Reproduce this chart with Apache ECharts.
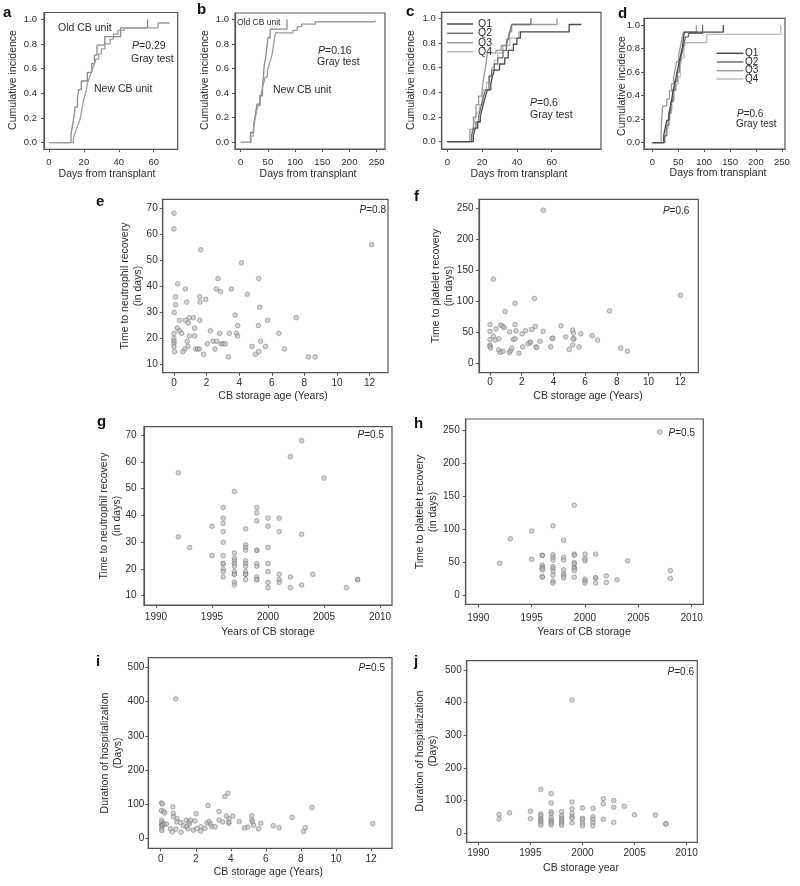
<!DOCTYPE html>
<html><head><meta charset="utf-8">
<script src="https://cdn.jsdelivr.net/npm/echarts@6/dist/echarts.min.js"></script>
<style>html,body{margin:0;padding:0;background:#fff}#c{width:800px;height:886px}</style>
</head><body><div id="c"></div>
<script>
// ---------- tick labels ----------
const incidenceTicks = [0, 0.2, 0.4, 0.6, 0.8, 1.0];
const daysTicksShort = [0, 20, 40, 60];
const daysTicksLong = [0, 50, 100, 150, 200, 250];
const ageTicks = [0, 2, 4, 6, 8, 10, 12];
const neutroTicks = [10, 20, 30, 40, 50, 60, 70];
const plateletTicks = [0, 50, 100, 150, 200, 250];
const yearTicks = [1990, 1995, 2000, 2005, 2010];
const hospTicks = [0, 100, 200, 300, 400, 500];

// ---------- panel a: cumulative incidence, old vs new CB unit (days 0-70) ----------
const aOldUnit = [[0,0],[12.6,0.07],[13.5,0.14],[14.3,0.21],[15,0.29],[16.3,0.36],[17,0.43],[18.5,0.5],[22,0.57],[24.5,0.64],[26,0.71],[27.5,0.79],[32,0.86],[41,0.93],[56.5,1.0]];
const aNewUnit = [[0,0],[14,0.04],[15,0.08],[16,0.12],[17,0.16],[18,0.2],[19,0.28],[20,0.36],[21,0.4],[22,0.48],[23,0.52],[24,0.56],[25,0.6],[26,0.64],[27,0.68],[28.5,0.72],[30,0.76],[32,0.8],[35,0.84],[37,0.88],[39.5,0.91],[43,0.93],[62.5,0.97],[69,0.97]];
// ---------- panel b ----------
const bOldUnit = [[0,0],[18,0.08],[24,0.15],[27,0.23],[30,0.31],[35,0.38],[40,0.46],[42,0.54],[43,0.62],[46,0.69],[48,0.77],[50,0.85],[54,0.92],[85,1.0]];
const bNewUnit = [[0,0],[19,0.05],[23,0.1],[26,0.18],[29,0.25],[32,0.3],[36,0.36],[39,0.42],[42,0.48],[45,0.53],[49,0.58],[52,0.63],[55,0.67],[58,0.72],[60,0.78],[62,0.84],[64,0.89],[96,0.91],[104,0.94],[112,0.96],[137,0.98],[247,0.98],[247,0.995]];
// ---------- panel c: quartiles ----------
const cQ1 = [[0,0],[15,0.05],[16,0.11],[17.5,0.16],[19,0.21],[20,0.26],[21,0.32],[22,0.37],[23,0.42],[25,0.47],[26,0.53],[27,0.58],[30,0.63],[33,0.68],[35,0.74],[38,0.79],[40,0.84],[42,0.89],[70,0.95],[77,0.95]];
const cQ2 = [[0,0],[14,0.05],[15,0.11],[16.5,0.16],[18,0.21],[19,0.26],[20,0.32],[21,0.37],[22,0.42],[24,0.53],[25.5,0.58],[27,0.63],[29,0.68],[32,0.74],[34,0.79],[35,0.84],[36,0.89],[37,0.95],[48,1.0]];
const cQ3 = [[0,0],[13,0.1],[15,0.2],[16.5,0.3],[18,0.37],[20,0.42],[21,0.53],[22,0.6],[23,0.72],[28,0.74],[31,0.78],[34,0.83],[35.5,0.89],[37,0.95],[63,1.0]];
const cQ4 = [[0,0],[14,0.06],[15,0.12],[16,0.18],[17,0.24],[18.5,0.3],[20,0.36],[21,0.42],[22.5,0.48],[24,0.54],[25.5,0.6],[27,0.66],[29,0.72],[32,0.78],[36,0.84],[41,0.89],[43,0.89]];
// ---------- panel d: quartiles ----------
const dQ1 = [[0,0],[22,0.06],[25,0.13],[28,0.19],[32,0.25],[35,0.31],[38,0.38],[40,0.44],[43,0.5],[46,0.56],[49,0.63],[52,0.69],[55,0.75],[58,0.81],[60,0.88],[62,0.94],[137,1.0]];
const dQ2 = [[0,0],[24,0.06],[28,0.15],[32,0.25],[36,0.35],[40,0.45],[44,0.52],[48,0.6],[52,0.66],[55,0.72],[58,0.78],[61,0.84],[64,0.9],[70,0.93],[97,1.0]];
const dQ3 = [[0,0],[17,0.06],[18,0.19],[20,0.31],[28,0.37],[33,0.44],[37,0.5],[41,0.56],[44,0.62],[47,0.69],[51,0.75],[54,0.81],[57,0.88],[60,0.94],[85,1.0]];
const dQ4 = [[0,0],[22,0.05],[26,0.12],[30,0.2],[34,0.28],[38,0.36],[42,0.44],[46,0.5],[50,0.56],[54,0.64],[57,0.72],[61,0.8],[64,0.85],[105,0.92],[248,1.0]];

// ---------- panel e: storage age (yr) vs neutrophil recovery (days) ----------
const ageNeutrophil = [[0,68],[0,62],[1.64,54],[4.14,49],[12.13,56],[0.23,41],[2.7,43],[5.2,43],[0.1,36],[0.1,33],[0.02,30],[0.7,39],[0.78,34],[1.58,36],[1.6,34],[1.95,35],[2.6,39],[2.85,38],[3.52,39],[4.5,37],[5.26,32],[3.75,29],[5.74,27],[7.5,28],[0.33,27],[0.7,27],[0.94,28],[1.19,28],[0.88,26],[1.58,27],[3.91,25],[5.18,25],[0.2,24],[0.33,23],[0.47,22],[0,22],[2.23,23],[1.27,24],[1.27,21],[0.94,21],[2.8,22],[3.4,22],[3.83,22],[3.91,21],[6.43,22],[0,20],[0,19],[0,18],[0,17],[0.04,15],[0.82,19],[0.86,17],[0.66,16],[0.55,15],[1.33,16],[1.45,16],[1.56,16],[1.82,14],[2.05,18],[2.4,19],[2.62,19],[2.52,16],[2.9,18],[3.0,18],[3.15,18],[3.34,13],[4.79,17],[5.32,19],[5.61,17],[5.0,14],[5.2,15],[6.78,16],[8.25,13],[8.66,13]];
// ---------- panel f: storage age vs platelet recovery ----------
const agePlatelet = [[3.37,247],[0.21,136],[12.02,110],[2.8,105],[1.58,97],[0.95,84],[7.54,85],[0,63],[0.67,62],[0.8,60],[0.9,58],[1.58,63],[2.86,60],[4.48,61],[0,52],[0.38,56],[0.21,44],[0.34,38],[0.55,40],[0,39],[1.24,51],[1.64,53],[2.25,53],[2.63,55],[3.35,52],[2.02,48],[2.53,34],[1.47,39],[1.58,40],[3.92,41],[3.96,41],[4.78,43],[5.22,54],[5.26,49],[5.3,40],[5.24,40],[5.73,48],[6.44,45],[6.78,38],[0,30],[0,28],[0.04,25],[0.55,22],[0.65,18],[0.82,20],[1.22,18],[1.3,21],[1.37,25],[1.83,17],[2.06,27],[2.4,32],[2.53,35],[2.9,27],[2.95,26],[3.16,36],[3.83,27],[5.0,23],[5.22,30],[5.62,27],[8.25,25],[8.67,20]];
// ---------- panel g: storage year vs neutrophil recovery ----------
const gYears = [1992, 1993, 1995, 1996, 1997, 1998, 1999, 2000, 2001, 2002, 2003, 2004, 2005, 2007, 2008];
const gNeutrophil = [[56,32],[28],[36,25],[43,39,37,34,30,25,22,22,20,19,17],[49,26,24,23,22,21,19,18,18,15,14],[35,29,28,27,23,22,21,19,18,18,16],[43,41,38,27,27,22,21,17,16,16],[39,36,28,22,19,15,13],[39,34,18,16,15],[62,17,13],[68,33,14],[18],[54],[13],[16,16]];
// ---------- panel h: storage year vs platelet recovery ----------
const hYears = [1992, 1993, 1995, 1996, 1997, 1998, 1999, 2000, 2001, 2002, 2003, 2004, 2007, 2008];
const hPlatelet = [[48],[85],[97,54],[60,60,45,42,40,38,28,27],[105,61,57,53,43,40,36,30,21,18],[83,57,53,38,32,29,26],[136,62,60,49,47,42,40,37,27],[62,55,52,24,21,18],[62,26,26,18],[29,19],[23],[52],[247],[37,25]];
// ---------- panel i: storage age vs hospitalization (days) ----------
const ageHospital = [[0.86,408],[3.83,133],[3.66,123],[8.63,91],[7.5,62],[12.1,44],[0.04,104],[0.1,101],[0.04,82],[0.15,80],[0.23,75],[0.69,93],[0.72,74],[0.72,64],[0.93,59],[0.91,49],[0.06,54],[0.06,47],[0.06,39],[0.13,43],[0.06,40],[0.1,38],[0.2,42],[0.06,29],[0.06,24],[0.32,43],[0.55,29],[0.67,20],[0.86,28],[1.14,47],[1.16,19],[1.3,38],[1.45,54],[1.47,35],[1.64,44],[1.6,49],[1.7,54],[1.56,29],[1.85,25],[1.96,52],[2.02,73],[2.06,30],[2.3,35],[2.29,22],[2.53,30],[2.63,46],[2.7,97],[2.76,50],[2.84,43],[2.91,35],[3.1,35],[3.33,79],[3.33,54],[3.54,49],[3.75,66],[3.89,58],[3.89,45],[3.89,49],[4.11,66],[4.48,50],[4.78,31],[4.97,34],[5.2,67],[5.2,54],[5.24,49],[5.3,39],[5.58,29],[5.71,45],[6.42,38],[6.76,32],[8.15,21],[8.25,32]];
// ---------- panel j: storage year vs hospitalization ----------
const jYears = [1992, 1993, 1995, 1996, 1997, 1998, 1999, 2000, 2001, 2002, 2003, 2004, 2005, 2007, 2008];
const jHospital = [[57,43],[62],[67,44],[134,59,53,45,40,35,30,24],[121,92,65,59,47,40,35,30,25],[65,53,45,40,35,30,24],[408,95,74,60,50,45,31],[77,45,40,30,22],[76,50,42,32,22],[105,90,42],[100,79,33],[82],[56],[55],[28,28]];

// ---------- build ----------
const FONT = '"Liberation Sans", Arial, Helvetica, sans-serif';
const TXT = '#2b2b2b';
const FRAME = '#555';
function byYear(years, groups){ const out=[]; years.forEach((yr,i)=>groups[i].forEach(v=>out.push([yr,v]))); return out; }

const grids=[], xAxes=[], yAxes=[], series=[], graphics=[];
const fmt1 = v => Number(v).toFixed(1);
const fmtInt = v => String(v);

function addPanel(p){
  const gi = grids.length;
  const fs = p.fs || 10;
  grids.push({left:p.box[0], top:p.box[1], width:p.box[2]-p.box[0], height:p.box[3]-p.box[1],
    show:true, borderColor:FRAME, borderWidth:1.2, backgroundColor:'transparent', containLabel:false, outerBoundsMode:'none'});
  xAxes.push({gridIndex:gi, type:'value', min:p.x[0], max:p.x[1],
    axisLine:{show:true, onZero:false, lineStyle:{color:FRAME, width:1.2}},
    axisTick:{show:true, length:3, customValues:p.xt, lineStyle:{color:FRAME}},
    axisLabel:{customValues:p.xt, fontSize:fs, color:TXT, margin:p.xm, fontFamily:FONT, formatter:fmtInt},
    splitLine:{show:false}});
  yAxes.push({gridIndex:gi, type:'value', min:p.y[0], max:p.y[1],
    axisLine:{show:true, onZero:false, lineStyle:{color:FRAME, width:1.2}},
    axisTick:{show:true, length:3, customValues:p.yt, lineStyle:{color:FRAME}},
    axisLabel:{customValues:p.yt, fontSize:fs, color:TXT, margin:p.ym, fontFamily:FONT, formatter:p.yf||fmtInt},
    splitLine:{show:false}});
  return gi;
}
function stepLine(gi, name, data, color){
  series.push({type:'line', name, xAxisIndex:gi, yAxisIndex:gi, data, step:'end', showSymbol:false, symbol:'none',
    lineStyle:{color, width:1.3}, itemStyle:{color}, animation:false, silent:true, clip:false});
}
function scatter(gi, data){
  series.push({type:'scatter', xAxisIndex:gi, yAxisIndex:gi, data, symbol:'circle', symbolSize:4.6,
    itemStyle:{color:'rgba(185,185,185,0.75)', borderColor:'rgba(115,115,115,0.85)', borderWidth:0.8}, animation:false, silent:true});
}
function text(str, x, y, o){
  o = o || {};
  const fs = o.size || 10;
  graphics.push({type:'text', x, y, rotation:o.rot||0, silent:true, z:10,
    style:{text:str, fontSize:fs, fontFamily:FONT, fontWeight:o.bold?'bold':'normal', fill:o.color||TXT,
      align:o.align||'left', verticalAlign:o.va||'middle', lineHeight:o.lh||fs*1.2,
      rich:{i:{fontStyle:'italic', fontSize:fs, fontFamily:FONT, fill:o.color||TXT}}}});
}
function keyLine(x1,x2,y,color){
  graphics.push({type:'line', silent:true, z:10, shape:{x1,y1:y,x2,y2:y}, style:{stroke:color, lineWidth:1.5}});
}

const G1='#8a8a8a', G2='#9c9c9c';
const QC=['#4a4a4a','#707070','#9a9a9a','#bababa'];

// a
let gi = addPanel({box:[44,12.5,177.7,149.3], x:[-2.87,73.75], y:[-0.0535,1.055], xt:daysTicksShort, yt:incidenceTicks, yf:fmt1, xm:8.3, ym:7, fs:9.5});
stepLine(gi,'Old CB unit',aOldUnit,G1); stepLine(gi,'New CB unit',aNewUnit,G2);
// b
gi = addPanel({box:[235,13,385,149], x:[-10.5,265.3], y:[-0.054,1.051], xt:daysTicksLong, yt:incidenceTicks, yf:fmt1, xm:8.3, ym:6, fs:9.5});
stepLine(gi,'Old CB unit',bOldUnit,G1); stepLine(gi,'New CB unit',bNewUnit,G2);
// c
gi = addPanel({box:[441.7,12.3,601,149], x:[-3.2,88.3], y:[-0.059,1.049], xt:daysTicksShort, yt:incidenceTicks, yf:fmt1, xm:8.3, ym:6, fs:9.5});
stepLine(gi,'Q4',cQ4,QC[3]); stepLine(gi,'Q3',cQ3,QC[2]); stepLine(gi,'Q2',cQ2,QC[1]); stepLine(gi,'Q1',cQ1,QC[0]);
// d
gi = addPanel({box:[644,18.3,785,149], x:[-16,256], y:[-0.0535,1.057], xt:daysTicksLong, yt:incidenceTicks, yf:fmt1, xm:8.3, ym:4, fs:9.5});
stepLine(gi,'Q4',dQ4,QC[3]); stepLine(gi,'Q3',dQ3,QC[2]); stepLine(gi,'Q2',dQ2,QC[1]); stepLine(gi,'Q1',dQ1,QC[0]);
// e
gi = addPanel({box:[162.7,199.3,388,372.7], x:[-0.69,13.13], y:[6.94,73.33], xt:ageTicks, yt:neutroTicks, xm:5.5, ym:5});
scatter(gi, ageNeutrophil);
// f
gi = addPanel({box:[479,199.3,698.3,372.7], x:[-0.694,13.14], y:[-14.5,264.5], xt:ageTicks, yt:plateletTicks, xm:5, ym:5.5});
scatter(gi, agePlatelet);
// g
gi = addPanel({box:[144,426.7,392,605], x:[1988.93,2011.07], y:[6.52,73.2], xt:yearTicks, yt:neutroTicks, xm:7.3, ym:7.5});
scatter(gi, byYear(gYears,gNeutrophil));
// h
gi = addPanel({box:[465.7,419,703.3,604.3], x:[1988.82,2011.09], y:[-14.1,266.7], xt:yearTicks, yt:plateletTicks, xm:9, ym:6});
scatter(gi, byYear(hYears,hPlatelet));
// i
gi = addPanel({box:[148.3,657.7,392,848.3], x:[-0.71,13.2], y:[-28,528], xt:ageTicks, yt:hospTicks, xm:6, ym:4});
scatter(gi, ageHospital);
// j
gi = addPanel({box:[466.7,660.7,697.3,842.3], x:[1988.89,2011.02], y:[-28.5,528.5], xt:yearTicks, yt:hospTicks, xm:6, ym:5});
scatter(gi, byYear(jYears,jHospital));

// ---------- texts ----------
const R = Math.PI/2;
// panel letters
[['a',3,22],['b',197,19],['c',406,21],['d',618,23],['e',96,211],['f',414,206],['g',97,431],['h',414,433],['i',96,671],['j',414,671]]
  .forEach(l=>text(l[0], l[1], l[2], {size:15, bold:true, color:'#111', va:'bottom'}));
// y titles
text('Cumulative incidence', 13, 80, {rot:R, align:'center', size:10.5});
text('Cumulative incidence', 205, 80, {rot:R, align:'center', size:10.5});
text('Cumulative incidence', 411, 80, {rot:R, align:'center', size:10.5});
text('Cumulative incidence', 621.7, 86, {rot:R, align:'center', size:10.5});
text('Time to neutrophil recovery\n(in days)', 131.5, 286, {rot:R, align:'center', size:10.5, lh:13});
text('Time to platelet recovery\n(in days)', 443, 286, {rot:R, align:'center', size:10.5, lh:13});
text('Time to neutrophil recovery\n(in days)', 111, 516, {rot:R, align:'center', size:10.5, lh:13});
text('Time to platelet recovery\n(in days)', 426.5, 512, {rot:R, align:'center', size:10.5, lh:13});
text('Duration of hospitalization\n(Days)', 111.7, 753, {rot:R, align:'center', size:10.5, lh:13});
text('Duration of hospitalization\n(Days)', 426.7, 751, {rot:R, align:'center', size:10.5, lh:13});
// x titles
text('Days from transplant', 107, 174, {align:'center', size:10.5});
text('Days from transplant', 308, 174, {align:'center', size:10.5});
text('Days from transplant', 519, 174, {align:'center', size:10.5});
text('Days from transplant', 718, 173.3, {align:'center', size:10.5});
text('CB storage age (Years)', 273, 395.7, {align:'center', size:10.5});
text('CB storage age (Years)', 588, 395.7, {align:'center', size:10.5});
text('Years of CB storage', 268, 632, {align:'center', size:10.5});
text('Years of CB storage', 584, 632, {align:'center', size:10.5});
text('CB storage age (Years)', 268.3, 872.3, {align:'center', size:10.5});
text('CB storage year', 581, 868.3, {align:'center', size:10.5});
// annotations a-d
text('Old CB unit', 58, 28, {size:10.5});
text('{i|P}=0.29', 132, 46, {size:10.5});
text('Gray test', 131, 59, {size:10.5});
text('New CB unit', 94, 89, {size:10.5});
text('Old CB unit', 237, 23, {size:8.5});
text('{i|P}=0.16', 318, 51, {size:10.5});
text('Gray test', 317, 62, {size:10.5});
text('New CB unit', 273, 90, {size:10.5});
text('{i|P}=0.6', 530, 103, {size:10.5});
text('Gray test', 530, 115, {size:10.5});
text('{i|P}=0.6', 737, 114, {size:10});
text('Gray test', 736, 124, {size:10});
['Q1','Q2','Q3','Q4'].forEach((q,k)=>{
  const yc=[24,33.3,42.7,51.7][k];
  keyLine(447,473,yc,QC[k]); text(q, 478, yc, {size:10.5});
  const yd=[53.3,62,70.7,79][k];
  keyLine(716.7,743.3,yd,QC[k]); text(q, 745, yd, {size:10});
});
// p values e-j
text('{i|P}=0.8', 386, 210.7, {align:'right', size:10});
text('{i|P}=0.6', 689.3, 211.7, {align:'right', size:10});
text('{i|P}=0.5', 384, 435.7, {align:'right', size:10});
text('{i|P}=0.5', 695, 433.3, {align:'right', size:10});
text('{i|P}=0.5', 385, 668.3, {align:'right', size:10});
text('{i|P}=0.6', 694, 672.7, {align:'right', size:10});

const chart = echarts.init(document.getElementById('c'), null, {renderer:'canvas', width:800, height:886});
chart.setOption({backgroundColor:'#fff', animation:false, grid:grids, xAxis:xAxes, yAxis:yAxes, series, graphic:graphics});
</script></body></html>
